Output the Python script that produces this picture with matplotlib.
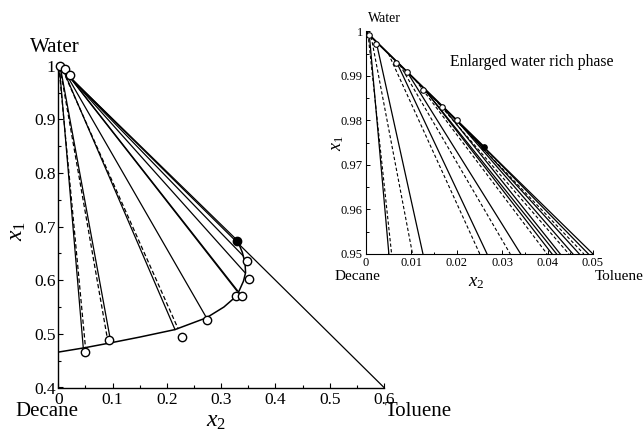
import matplotlib
matplotlib.use("Agg")
import matplotlib.pyplot as plt
from matplotlib.ticker import MultipleLocator, FuncFormatter

plt.rcParams['font.family'] = ['Liberation Serif', 'DejaVu Serif']
plt.rcParams['mathtext.fontset'] = 'custom'
plt.rcParams['mathtext.it'] = 'Liberation Serif:italic'
plt.rcParams['mathtext.rm'] = 'Liberation Serif'

# ---------------- data ----------------
# binodal curve, organic (decane-rich) branch
binodal_x2 = [0.0, 0.048, 0.095, 0.15, 0.215, 0.273, 0.305, 0.322, 0.333, 0.341, 0.345, 0.344, 0.339, 0.330]
binodal_x1 = [0.466, 0.474, 0.483, 0.494, 0.508, 0.530, 0.550, 0.565, 0.580, 0.598, 0.614, 0.632, 0.652, 0.674]

# main plot tie lines: water-rich end -> organic-rich end
main_solid_w_x2 = [0.002, 0.004, 0.010, 0.013, 0.020, 0.022, 0.024, 0.026, 0.027]
main_solid_w_x1 = [0.998, 0.996, 0.990, 0.987, 0.980, 0.978, 0.976, 0.974, 0.973]
main_solid_o_x2 = [0.046, 0.097, 0.215, 0.273, 0.329, 0.333, 0.344, 0.340, 0.330]
main_solid_o_x1 = [0.474, 0.483, 0.508, 0.530, 0.580, 0.577, 0.614, 0.646, 0.674]

main_dash_w_x2 = [0.001, 0.003, 0.008]
main_dash_w_x1 = [0.999, 0.997, 0.992]
main_dash_o_x2 = [0.050, 0.092, 0.221]
main_dash_o_x1 = [0.475, 0.482, 0.509]

# experimental points, main plot
org_pts_x2 = [0.050, 0.093, 0.227, 0.274, 0.328, 0.339, 0.352, 0.347]
org_pts_x1 = [0.467, 0.489, 0.495, 0.525, 0.571, 0.571, 0.602, 0.636]
wat_pts_x2 = [0.004, 0.012, 0.022]
wat_pts_x1 = [0.999, 0.993, 0.982]
crit_x2 = [0.329]
crit_x1 = [0.674]

# inset tie lines: water-rich start and the x2 value where they cross x1 = 0.95
inset_solid_w_x2 = [0.0008, 0.0023, 0.0067, 0.0091, 0.0127, 0.0127, 0.0168, 0.0201, 0.0218, 0.0261]
inset_solid_cross = [0.0051, 0.0126, 0.0267, 0.0341, 0.0410, 0.0420, 0.0428, 0.0456, 0.0470, 0.0490]
inset_dash_w_x2 = [0.0005, 0.0012, 0.0050, 0.0075, 0.0110, 0.0150, 0.0190]
inset_dash_cross = [0.0057, 0.0103, 0.0251, 0.0318, 0.0399, 0.0447, 0.0480]

inset_pts_x2 = [0.0008, 0.0023, 0.0067, 0.0091, 0.0127, 0.0168, 0.0201]
inset_pts_x1 = [0.9993, 0.9972, 0.9929, 0.9908, 0.9869, 0.9830, 0.9801]
inset_crit_x2 = [0.0261]
inset_crit_x1 = [0.9740]

# ---------------- figure ----------------
W, H = 643, 433
fig = plt.figure(figsize=(W / 100, H / 100), dpi=100)


def rect(l, t, r, b):
    return [l / W, 1 - b / H, (r - l) / W, (b - t) / H]


def fpos(x, y):
    return x / W, 1 - y / H


fmt = FuncFormatter(lambda v, p: ('%g' % round(v, 4)))

lw = 0.9
dash = (0, (3.5, 2.0))

# main axes
ax = fig.add_axes(rect(58.3, 65.7, 384, 387.5))
ax.set_xlim(0, 0.6)
ax.set_ylim(0.4, 1.0)
for s in ['top', 'right']:
    ax.spines[s].set_visible(False)
for s in ['left', 'bottom']:
    ax.spines[s].set_linewidth(1.0)
ax.xaxis.set_major_locator(MultipleLocator(0.1))
ax.xaxis.set_minor_locator(MultipleLocator(0.05))
ax.yaxis.set_major_locator(MultipleLocator(0.1))
ax.yaxis.set_minor_locator(MultipleLocator(0.05))
ax.xaxis.set_major_formatter(fmt)
ax.yaxis.set_major_formatter(fmt)
ax.tick_params(which='major', direction='in', length=3.5, width=0.8, labelsize=12.5)
ax.tick_params(which='minor', direction='in', length=2, width=0.8)
ax.tick_params(axis='x', which='major', pad=3)
ax.tick_params(axis='y', which='major', pad=2)

ax.plot([0, 0.6], [1.0, 0.4], color='black', lw=lw, clip_on=False)
ax.plot(binodal_x2, binodal_x1, color='black', lw=1.1)
for i in range(len(main_solid_w_x2)):
    ax.plot([main_solid_w_x2[i], main_solid_o_x2[i]], [main_solid_w_x1[i], main_solid_o_x1[i]],
            color='black', lw=lw)
for i in range(len(main_dash_w_x2)):
    ax.plot([main_dash_w_x2[i], main_dash_o_x2[i]], [main_dash_w_x1[i], main_dash_o_x1[i]],
            color='black', lw=lw, linestyle=dash)
ax.plot(org_pts_x2, org_pts_x1, 'o', ms=6, mfc='white', mec='black', mew=1.0, clip_on=False, zorder=5)
ax.plot(wat_pts_x2, wat_pts_x1, 'o', ms=6, mfc='white', mec='black', mew=1.0, clip_on=False, zorder=5)
ax.plot(crit_x2, crit_x1, 'o', ms=6, mfc='black', mec='black', mew=1.0, clip_on=False, zorder=5)

fig.text(*fpos(30, 47), 'Water', fontsize=15, va='center', ha='left')
fig.text(*fpos(15, 412), 'Decane', fontsize=15, va='center', ha='left')
fig.text(*fpos(385, 412), 'Toluene', fontsize=15, va='center', ha='left')
fig.text(*fpos(216, 427), r'$x_2$', fontsize=17, va='baseline', ha='center')
fig.text(*fpos(17, 231), r'$x_1$', fontsize=17, va='center', ha='center', rotation=90)

# inset axes
ia = fig.add_axes(rect(365.7, 31.4, 593, 254))
ia.set_xlim(0, 0.05)
ia.set_ylim(0.95, 1.0)
for s in ['top', 'right']:
    ia.spines[s].set_visible(False)
ia.xaxis.set_major_locator(MultipleLocator(0.01))
ia.xaxis.set_minor_locator(MultipleLocator(0.005))
ia.yaxis.set_major_locator(MultipleLocator(0.01))
ia.yaxis.set_minor_locator(MultipleLocator(0.005))
ia.xaxis.set_major_formatter(fmt)
ia.yaxis.set_major_formatter(fmt)
ia.tick_params(which='major', direction='in', length=3, width=0.7, labelsize=9, pad=2)
ia.tick_params(which='minor', direction='in', length=1.8, width=0.7)

ia.plot([0, 0.05], [1.0, 0.95], color='black', lw=lw)
ia.plot([0.0, inset_crit_x2[0]], [1.0, inset_crit_x1[0]], color='black', lw=1.3)
for i in range(len(inset_solid_w_x2)):
    ia.plot([inset_solid_w_x2[i], inset_solid_cross[i]], [1 - inset_solid_w_x2[i], 0.95],
            color='black', lw=lw)
for i in range(len(inset_dash_w_x2)):
    ia.plot([inset_dash_w_x2[i], inset_dash_cross[i]], [1 - inset_dash_w_x2[i], 0.95],
            color='black', lw=0.8, linestyle=(0, (3, 2)))
ia.plot(inset_pts_x2, inset_pts_x1, 'o', ms=4, mfc='white', mec='black', mew=0.8, clip_on=False, zorder=5)
ia.plot(inset_crit_x2, inset_crit_x1, 'o', ms=4, mfc='black', mec='black', mew=0.8, zorder=5)

fig.text(*fpos(368, 18), 'Water', fontsize=10, va='center', ha='left')
fig.text(*fpos(335, 277), 'Decane', fontsize=11, va='center', ha='left')
fig.text(*fpos(595, 277), 'Toluene', fontsize=11, va='center', ha='left')
fig.text(*fpos(476, 286), r'$x_2$', fontsize=13.5, va='baseline', ha='center')
fig.text(*fpos(338, 143), r'$x_1$', fontsize=13, va='center', ha='center', rotation=90)
fig.text(*fpos(450, 62), 'Enlarged water rich phase', fontsize=11.3, va='center', ha='left')

fig.savefig('out.png', dpi=100)
